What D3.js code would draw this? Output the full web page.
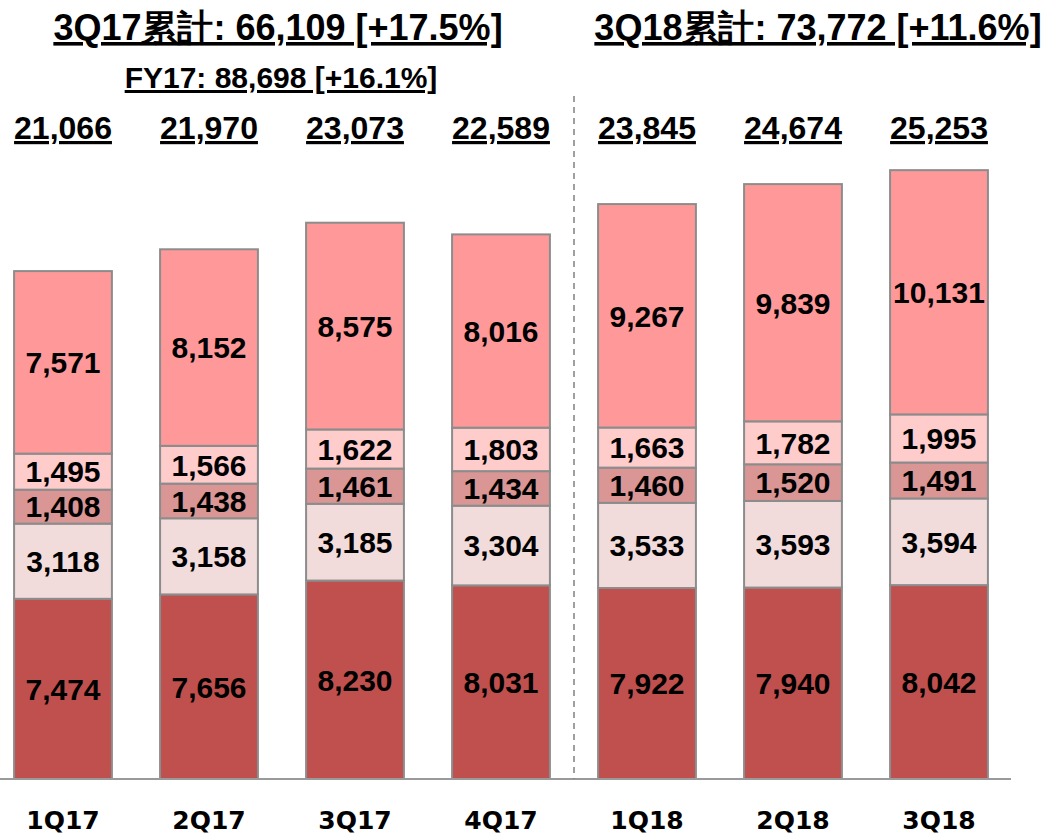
<!DOCTYPE html>
<html>
<head>
<meta charset="utf-8">
<script src="https://cdn.jsdelivr.net/npm/d3@7"></script>
<style>
  body { margin: 0; background: #fff; }
  text { font-family: "Liberation Sans", Arial, sans-serif; font-weight: bold; fill: #000; }
  .axislabel { font-family: "DejaVu Sans", Verdana, sans-serif; }
</style>
</head>
<body>
<script>
(function(){

    //quarters on the x axis
    var quarters = ["1Q17", "2Q17", "3Q17", "4Q17", "1Q18", "2Q18", "3Q18"];

    //segment values, bottom to top
    var seg1 = [7474, 7656, 8230, 8031, 7922, 7940, 8042];
    var seg2 = [3118, 3158, 3185, 3304, 3533, 3593, 3594];
    var seg3 = [1408, 1438, 1461, 1434, 1460, 1520, 1491];
    var seg4 = [1495, 1566, 1622, 1803, 1663, 1782, 1995];
    var seg5 = [7571, 8152, 8575, 8016, 9267, 9839, 10131];

    //totals shown above each bar
    var totals = [21066, 21970, 23073, 22589, 23845, 24674, 25253];

    var segColors = ["#c0504d", "#f2dcdb", "#d99694", "#ffcccc", "#ff9999"];

    //titles
    var title17 = "3Q17累計: 66,109 [+17.5%]";
    var subtitle17 = "FY17: 88,698 [+16.1%]";
    var title18 = "3Q18累計: 73,772 [+11.6%]";

    var width = 1051, height = 834;
    var baseline = 779;

    var svg = d3.select("body").append("svg")
        .attr("width", width)
        .attr("height", height);

    var x = d3.scaleBand()
        .domain(quarters)
        .range([-10, 1012])
        .paddingInner(0.33)
        .paddingOuter(0.165);

    var y = d3.scaleLinear()
        .domain([0, 32310])
        .range([baseline, 0]);

    //build stacked rows
    var rows = quarters.map(function(q, i){
        return {q: q, s0: seg1[i], s1: seg2[i], s2: seg3[i], s3: seg4[i], s4: seg5[i]};
    });
    var stack = d3.stack().keys(["s0", "s1", "s2", "s3", "s4"]);
    var series = stack(rows);

    var fmt = d3.format(",");

    var groups = svg.selectAll(".layer")
        .data(series)
        .enter()
        .append("g")
        .attr("class", "layer")
        .attr("fill", function(d, i){ return segColors[i]; });

    groups.selectAll("rect")
        .data(function(d){ return d; })
        .enter()
        .append("rect")
        .attr("x", function(d){ return x(d.data.q); })
        .attr("width", x.bandwidth())
        .attr("y", function(d){ return y(d[1]); })
        .attr("height", function(d){ return y(d[0]) - y(d[1]); })
        .attr("stroke", "#8c8c8c")
        .attr("stroke-width", 2);

    groups.selectAll("text")
        .data(function(d){ return d; })
        .enter()
        .append("text")
        .attr("x", function(d){ return x(d.data.q) + x.bandwidth() / 2; })
        .attr("y", function(d){ return (y(d[0]) + y(d[1])) / 2; })
        .attr("dy", "0.36em")
        .attr("text-anchor", "middle")
        .style("font-size", "30px")
        .text(function(d){ return fmt(d[1] - d[0]); });

    //baseline axis line
    svg.append("line")
        .attr("x1", 0).attr("x2", 1011)
        .attr("y1", baseline).attr("y2", baseline)
        .attr("stroke", "#9a9a9a")
        .attr("stroke-width", 2);

    //dashed divider between FY17 and FY18
    var divX = (x("4Q17") + x.bandwidth() + x("1Q18")) / 2;
    svg.append("line")
        .attr("x1", divX).attr("x2", divX)
        .attr("y1", 96).attr("y2", baseline)
        .attr("stroke", "#808080")
        .attr("stroke-width", 1.5)
        .attr("stroke-dasharray", "6,5");

    //quarter labels
    svg.selectAll(".axislabel")
        .data(quarters)
        .enter()
        .append("text")
        .attr("class", "axislabel")
        .attr("x", function(d){ return x(d) + x.bandwidth() / 2; })
        .attr("y", 829)
        .attr("text-anchor", "middle")
        .style("font-size", "25px")
        .text(function(d){ return d; });

    //totals above bars
    svg.selectAll(".total")
        .data(totals)
        .enter()
        .append("text")
        .attr("class", "total")
        .attr("x", function(d, i){ return x(quarters[i]) + x.bandwidth() / 2; })
        .attr("y", 139)
        .attr("text-anchor", "middle")
        .style("font-size", "32px")
        .style("text-decoration", "underline")
        .text(function(d){ return fmt(d); });

    //titles
    svg.append("text")
        .attr("x", 278).attr("y", 40)
        .attr("text-anchor", "middle")
        .style("font-size", "36px")
        .style("text-decoration", "underline")
        .text(title17);

    svg.append("text")
        .attr("x", 281).attr("y", 88)
        .attr("text-anchor", "middle")
        .style("font-size", "30px")
        .style("text-decoration", "underline")
        .text(subtitle17);

    svg.append("text")
        .attr("x", 818).attr("y", 40)
        .attr("text-anchor", "middle")
        .style("font-size", "36px")
        .style("text-decoration", "underline")
        .text(title18);

})();
</script>
</body>
</html>
